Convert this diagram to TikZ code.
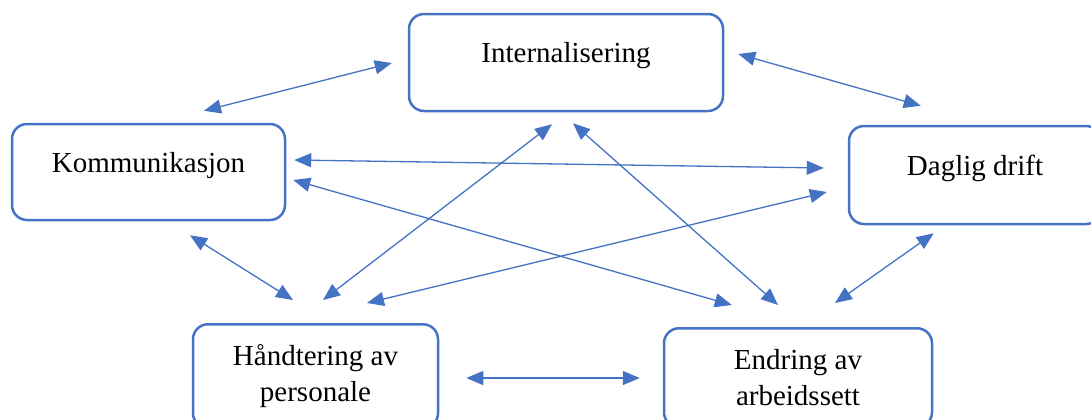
\documentclass[tikz,border=0pt]{standalone}
\usepackage{fontspec}
\setmainfont{Liberation Serif}
\usetikzlibrary{arrows.meta}
\definecolor{boxblue}{HTML}{4472C4}
\tikzset{
  topic_node/.style = {draw=boxblue, line width=1.25pt, rounded corners=7.5pt,
    inner sep=0pt, font=\fontsize{14.5}{18.25}\selectfont},
  one_line/.style = {topic_node, text height=10pt, text depth=10pt},% tema, en linje
  two_line/.style = {topic_node, align=center, anchor=north},% tema, to linjer
  link_arrow/.style = {draw=boxblue, line width=0.65pt,
    {Triangle[length=8.5pt,width=7pt]}-{Triangle[length=8.5pt,width=7pt]}}
}
\begin{document}
\begin{tikzpicture}[x=0.5pt, y=-0.5pt]
    \useasboundingbox (0,0) rectangle (1091,419);

    \node [one_line, minimum width=157pt, minimum height=48.5pt] (intern) at (566,62.5) {Internalisering};
    \node [one_line, minimum width=136.5pt, minimum height=48pt] (komm) at (148.5,172) {Kommunikasjon};
    \node [one_line, minimum width=126pt, minimum height=49pt] (drift) at (975,175) {Daglig drift};
    \node [two_line, minimum width=122.5pt, minimum height=52pt] (hand) at (315.5,323) {Håndtering av\\personale};
    \node [two_line, minimum width=134pt, minimum height=49.5pt] (endr) at (798,327) {Endring av\\arbeidssett};

    \draw [link_arrow] ([shift={(55.5,-12)}]komm.north) -- ([shift={(-16,0.5)}]intern.west);
    \draw [link_arrow] ([shift={(14,-8.5)}]intern.east) -- ([shift={(73,-19)}]drift.north west);
    \draw [link_arrow] ([shift={(8,-12)}]komm.east) -- ([shift={(-24,-7)}]drift.west);
    \draw [link_arrow] ([shift={(7,8)}]komm.east) -- ([shift={(69,-22)}]endr.north west);
    \draw [link_arrow] ([shift={(7.5,-23)}]hand.north) -- ([shift={(-14,12)}]intern.south);
    \draw [link_arrow] ([shift={(51.5,-20)}]hand.north) -- ([shift={(-21,17)}]drift.west);
    \draw [link_arrow] ([shift={(7,11)}]intern.south) -- ([shift={(-20,-22)}]endr.north);
    \draw [link_arrow] ([shift={(41.5,14)}]komm.south) -- ([shift={(-22.5,-23)}]hand.north);
    \draw [link_arrow] ([shift={(86,8)}]drift.south west) -- ([shift={(37,-24)}]endr.north);
    \draw [link_arrow] ([shift={(27,55)}]hand.north east) -- ([shift={(-23,51)}]endr.north west);
\end{tikzpicture}
\end{document}
